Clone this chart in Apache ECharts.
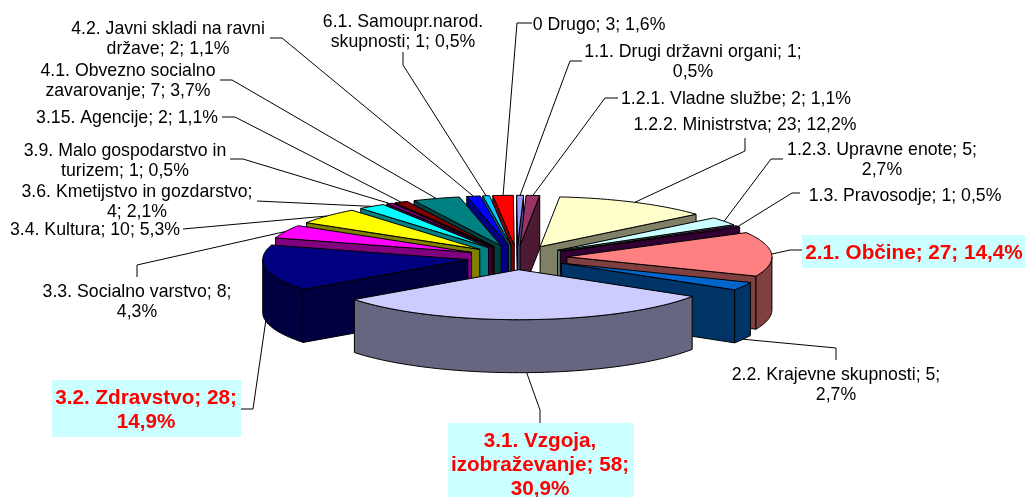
<!DOCTYPE html>
<html>
<head>
<meta charset="utf-8">
<title>Struktura</title>
<style>
html,body{margin:0;padding:0;background:#fff}
#chart{width:1025px;height:497px}
</style>
<script src="https://cdn.jsdelivr.net/npm/echarts@6/dist/echarts.min.js"></script>
</head>
<body>
<div id="chart"></div>
<script>
// clockwise from the top, same order as the source table
var names = ['0 Drugo', '1.1. Drugi državni organi', '1.2.1. Vladne službe', '1.2.2. Ministrstva',
  '1.2.3. Upravne enote', '1.3. Pravosodje', '2.1. Občine', '2.2. Krajevne skupnosti',
  '3.1. Vzgoja, izobraževanje', '3.2. Zdravstvo', '3.3. Socialno varstvo', '3.4. Kultura',
  '3.6. Kmetijstvo in gozdarstvo', '3.9. Malo gospodarstvo in turizem', '3.15. Agencije',
  '4.1. Obvezno socialno zavarovanje', '4.2. Javni skladi na ravni države', '6.1. Samoupr.narod. skupnosti'];
var values = [3, 1, 2, 23, 5, 1, 27, 5, 58, 28, 8, 10, 4, 1, 2, 7, 2, 1];
var percents = ['1,6%', '0,5%', '1,1%', '12,2%', '2,7%', '0,5%', '14,4%', '2,7%', '30,9%', '14,9%',
  '4,3%', '5,3%', '2,1%', '0,5%', '1,1%', '3,7%', '1,1%', '0,5%'];
var topColors = ['#FF0000', '#9999FF', '#993366', '#FFFFCC', '#CCFFFF', '#660066', '#FF8080', '#0066CC', '#CCCCFF',
  '#000080', '#FF00FF', '#FFFF00', '#00FFFF', '#800080', '#800000', '#008080', '#0000FF', '#00CCFF'];
var sideColors = ['#800000', '#4C4C80', '#4D1A33', '#808066', '#668080', '#330033', '#804040', '#003366', '#666680',
  '#000040', '#800080', '#808000', '#008080', '#400040', '#400000', '#004040', '#000080', '#006680'];

// label layout: x,y = text centre, leader = points from the label towards the slice, wrap = text a line ends with
var labelPlaces = [
  {x: 599, y: 25, leader: [[532, 23], [517, 23]]},
  {x: 693, y: 62, wrap: '1;', leader: [[582, 61], [570, 61]]},
  {x: 736, y: 99, leader: [[618, 98], [605, 98]]},
  {x: 745, y: 125, leader: [[745, 138], [745, 151]]},
  {x: 882, y: 160, wrap: '5;', leader: [[783, 159], [771, 159]]},
  {x: 905, y: 196, leader: [[800, 193], [792, 193]]},
  {x: 914, y: 253, hot: true, box: [802, 235, 223, 33], leader: [[802, 250], [790, 250]]},
  {x: 836, y: 385, wrap: '5;', leader: [[836, 360], [836, 348]]},
  {x: 540, y: 465, hot: true, wrap: ['Vzgoja,', '58;'], box: [448, 423, 186, 74], leader: [[540, 423], [540, 410]]},
  {x: 146, y: 410, hot: true, wrap: '28;', box: [52, 380, 189, 57], leader: [[241, 409], [253, 409]]},
  {x: 137, y: 302, wrap: '8;', leader: [[137, 277], [137, 265]]},
  {x: 95, y: 230, leader: [[183, 229]]},
  {x: 137, y: 202, wrap: 'gozdarstvo;', leader: [[257, 201]]},
  {x: 125, y: 161, wrap: 'in', leader: [[230, 159], [243, 159]]},
  {x: 127, y: 118, leader: [[222, 117], [235, 117]]},
  {x: 128, y: 81, wrap: 'socialno', leader: [[220, 80], [232, 80]]},
  {x: 168, y: 39, wrap: 'ravni', leader: [[270, 38], [282, 38]]},
  {x: 403, y: 32, wrap: 'Samoupr.narod.', leader: [[403, 52], [403, 65]]}
];

var cx = 517, cy = 257.5, rx = 205, ry = 50, wall = 53, blow = 50, startAngle = -6;
var total = values.reduce(function (a, b) { return a + b; }, 0);

// slice angles in degrees, clockwise from north
var slices = [], run = startAngle;
values.forEach(function (v, i) {
  var a = run, b = run + v / total * 360;
  run = b;
  var mid = (a + b) / 2, r = mid * Math.PI / 180;
  slices.push({
    i: i, a: a, b: b, mid: mid,
    ax: cx + blow * Math.sin(r),
    ay: cy - blow * ry / rx * Math.cos(r)
  });
});

function rim(s, t, drop) {
  var r = t * Math.PI / 180;
  return [s.ax + rx * Math.sin(r), s.ay - ry * Math.cos(r) + (drop || 0)];
}
function arc(s, from, to, drop) {
  var pts = [], n = Math.max(2, Math.ceil(Math.abs(to - from)));
  for (var k = 0; k <= n; k++) pts.push(rim(s, from + (to - from) * k / n, drop));
  return pts;
}
function face(points, fill) {
  return {
    type: 'polygon',
    shape: {points: points},
    style: {fill: fill, stroke: '#000', lineWidth: 1, lineJoin: 'round'}
  };
}
function edgeFace(s, t, fill) {
  var p = rim(s, t);
  return face([[s.ax, s.ay], p, [p[0], p[1] + wall], [s.ax, s.ay + wall]], fill);
}

function renderSlice(params, api) {
  var s = slices[api.value(0)];
  var fill = sideColors[s.i];
  var kids = [];
  var sa = Math.sin(s.a * Math.PI / 180), sb = Math.sin(s.b * Math.PI / 180);
  if (sa < 0) kids.push(edgeFace(s, s.a, fill));
  if (sb > 0) kids.push(edgeFace(s, s.b, fill));
  // outer wall, front half of the ellipse only
  var from = Math.max(s.a, 90), to = Math.min(s.b, 270);
  if (to > from) {
    kids.push(face(arc(s, from, to).concat(arc(s, to, from, wall)), fill));
  }
  kids.push(face([[s.ax, s.ay]].concat(arc(s, s.a, s.b)), topColors[s.i]));
  return {type: 'group', children: kids};
}

function labelText(i) {
  var txt = names[i] + '; ' + values[i] + '; ' + percents[i];
  var w = labelPlaces[i].wrap;
  if (w) [].concat(w).forEach(function (part) { txt = txt.replace(part + ' ', part + '\n'); });
  return txt;
}

function renderLabel(params, api) {
  var i = api.value(0), s = slices[i], p = labelPlaces[i], kids = [];
  // leader ends on the top rim at the back, on the wall foot at the front
  var front = Math.cos(s.mid * Math.PI / 180) < 0;
  kids.push({
    type: 'polyline',
    shape: {points: p.leader.concat([rim(s, s.mid, front ? wall : 0)])},
    style: {fill: 'none', stroke: '#000', lineWidth: 1}
  });
  if (p.box) {
    kids.push({
      type: 'rect',
      shape: {x: p.box[0], y: p.box[1], width: p.box[2], height: p.box[3]},
      style: {fill: '#CCFFFF'}
    });
  }
  kids.push({
    type: 'text',
    style: {
      x: p.x, y: p.y,
      text: labelText(i),
      align: 'center', verticalAlign: 'middle',
      fontFamily: '"Liberation Sans", Arial, sans-serif',
      fontSize: p.hot ? 20.7 : 17.7,
      fontWeight: p.hot ? 'bold' : 'normal',
      lineHeight: p.hot ? 24 : 19.5,
      fill: p.hot ? '#FF0000' : '#000'
    }
  });
  return {type: 'group', children: kids};
}

// back slices first so that the front ones cover them
var paintOrder = slices.slice().sort(function (p, q) {
  return Math.cos(q.mid * Math.PI / 180) - Math.cos(p.mid * Math.PI / 180);
}).map(function (s) { return [s.i]; });

var chart = echarts.init(document.getElementById('chart'), null, {renderer: 'canvas'});
chart.setOption({
  backgroundColor: '#fff',
  animation: false,
  series: [
    {type: 'custom', coordinateSystem: 'none', silent: true, z: 2, data: paintOrder, renderItem: renderSlice},
    {type: 'custom', coordinateSystem: 'none', silent: true, z: 3, data: values.map(function (v, i) { return [i]; }), renderItem: renderLabel}
  ]
});
</script>
</body>
</html>
